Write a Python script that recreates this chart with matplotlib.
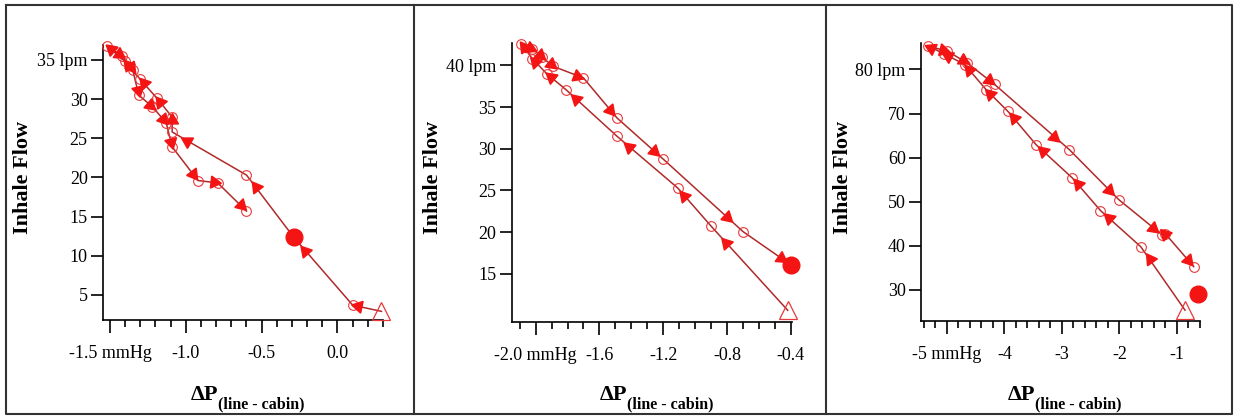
import numpy as np
import matplotlib

matplotlib.use("Agg")
import matplotlib.pyplot as plt
from matplotlib.lines import Line2D

plt.rcParams["font.family"] = ["Liberation Serif", "DejaVu Serif"]

# --- data (first point = open triangle, start of the breath)
p1_x = [0.29, 0.10, -0.29, -0.60, -1.09, -1.09, -1.19, -1.30, -1.40, -1.52,
        -1.42, -1.35, -1.31, -1.22, -1.13, -1.09, -0.92, -0.79, -0.60]
p1_y = [2.9, 3.7, 12.4, 20.3, 25.8, 27.7, 30.1, 32.5, 34.8, 36.8,
        35.5, 33.7, 30.5, 29.0, 27.0, 23.9, 19.6, 19.3, 15.7]
p1_dot = [-0.29, 12.4]

p2_x = [-0.42, -0.90, -1.11, -1.49, -1.81, -1.93, -2.02, -2.09,
        -2.02, -1.96, -1.89, -1.70, -1.49, -1.20, -0.70, -0.40]
p2_y = [10.6, 20.7, 25.3, 31.5, 37.1, 39.0, 40.8, 42.6,
        42.0, 41.0, 39.9, 38.5, 33.7, 28.75, 20.05, 16.05]
p2_dot = [-0.40, 16.05]

p3_x = [-0.86, -1.63, -2.33, -2.82, -3.45, -3.94, -4.32, -4.69, -5.05, -5.33,
        -5.00, -4.65, -4.17, -2.87, -2.01, -1.26, -1.20, -0.71]
p3_y = [25.4, 39.8, 48.0, 55.4, 62.95, 70.5, 75.45, 81.1, 83.6, 85.3,
        84.2, 81.5, 76.6, 61.8, 50.45, 42.5, 42.7, 35.3]
p3_dot = [-0.63, 29.1]

p1_xticks = [-1.5, -1.0, -0.5, 0.0]
p1_xlabels = ["-1.5 mmHg", "-1.0", "-0.5", "0.0"]
p1_yticks = [5, 10, 15, 20, 25, 30, 35]
p1_ylabels = ["5", "10", "15", "20", "25", "30", "35 lpm"]

p2_xticks = [-2.0, -1.6, -1.2, -0.8, -0.4]
p2_xlabels = ["-2.0 mmHg", "-1.6", "-1.2", "-0.8", "-0.4"]
p2_yticks = [15, 20, 25, 30, 35, 40]
p2_ylabels = ["15", "20", "25", "30", "35", "40 lpm"]

p3_xticks = [-5, -4, -3, -2, -1]
p3_xlabels = ["-5 mmHg", "-4", "-3", "-2", "-1"]
p3_yticks = [30, 40, 50, 60, 70, 80]
p3_ylabels = ["30", "40", "50", "60", "70", "80 lpm"]

W, H = 1235, 416
LINE = "#b02a2a"
MARK = "#e8383a"
ARROW = "#f41414"

fig = plt.figure(figsize=(W / 100, H / 100), dpi=100)


def px_axes(l, t, r, b):
    return fig.add_axes([l / W, 1 - b / H, (r - l) / W, (b - t) / H])


def draw_panel(ax, xs, ys, dot, xlim, ylim, xt, xl, yt, yl, minor):
    ax.set_xlim(xlim)
    ax.set_ylim(ylim)
    xs = np.asarray(xs)
    ys = np.asarray(ys)
    ax.plot(xs, ys, color=LINE, lw=1.1, zorder=2, clip_on=False)
    ax.plot(xs[1:], ys[1:], "o", ms=7, mfc="none", mec=MARK, mew=0.8,
            zorder=3, clip_on=False)
    # direction arrows, placed near the end of every segment
    pts = ax.transData.transform(np.column_stack([xs, ys]))
    for i in range(len(xs) - 1):
        d = pts[i + 1] - pts[i]
        ang = np.degrees(np.arctan2(d[1], d[0])) - 90
        ax.plot(xs[i] + 0.8 * (xs[i + 1] - xs[i]), ys[i] + 0.8 * (ys[i + 1] - ys[i]),
                marker=(3, 0, ang), ms=10, color=ARROW, mec=ARROW, zorder=4, clip_on=False)
    ax.plot(xs[0], ys[0], "^", ms=13, mfc="none", mec=MARK, mew=0.9, zorder=5, clip_on=False)
    ax.plot(dot[0], dot[1], "o", ms=12, color=ARROW, zorder=5, clip_on=False)

    for s in ("top", "right"):
        ax.spines[s].set_visible(False)
    for s in ("left", "bottom"):
        ax.spines[s].set_linewidth(1.2)
    ax.set_xticks(xt, xl)
    ax.set_yticks(yt, yl)
    ax.set_xticks(minor, minor=True)
    ax.tick_params(axis="both", which="major", direction="out", length=9, width=1.2,
                   labelsize=13)
    ax.tick_params(axis="x", which="major", pad=9)
    ax.tick_params(axis="y", which="major", pad=2)
    ax.tick_params(axis="x", which="minor", direction="out", length=5, width=1.2)


ax1 = px_axes(103, 45, 383, 320)
draw_panel(ax1, p1_x, p1_y, p1_dot, (-1.546, 0.30), (1.8, 36.9),
           p1_xticks, p1_xlabels, p1_yticks, p1_ylabels,
           np.round(np.arange(-1.5, 0.31, 0.1), 2))

ax2 = px_axes(511.7, 43, 791.7, 321.7)
draw_panel(ax2, p2_x, p2_y, p2_dot, (-2.15, -0.395), (9.23, 42.7),
           p2_xticks, p2_xlabels, p2_yticks, p2_ylabels,
           np.round(np.arange(-2.1, -0.39, 0.1), 2))

ax3 = px_axes(921, 43, 1200, 321)
draw_panel(ax3, p3_x, p3_y, p3_dot, (-5.45, -0.625), (22.95, 86.0),
           p3_xticks, p3_xlabels, p3_yticks, p3_ylabels,
           np.round(np.arange(-5.4, -0.59, 0.2), 2))

# axis titles: "ΔP" plus a bold subscript, placed in pixels
for x_ylab, x_split in [(23, 218), (433, 627), (843, 1035)]:
    fig.text(x_ylab / W, 1 - 177 / H, "Inhale Flow", rotation=90, ha="center", va="center",
             fontsize=16, fontweight="bold")
    fig.text(x_split / W, 1 - 400 / H, "ΔP", ha="right", va="baseline",
             fontsize=16, fontweight="bold")
    fig.text(x_split / W, 1 - 408 / H, "(line - cabin)", ha="left", va="baseline",
             fontsize=11.5, fontweight="bold")

# panel frames
frame = dict(color="#333333", lw=1.5, transform=fig.transFigure)
L, R, T, B = 6 / W, 1232 / W, 1 - 5 / H, 1 - 414 / H
fig.add_artist(Line2D([L, R, R, L, L], [T, T, B, B, T], **frame))
for xv in (414, 826):
    fig.add_artist(Line2D([xv / W, xv / W], [T, B], **frame))

fig.savefig("out.png", dpi=100)
